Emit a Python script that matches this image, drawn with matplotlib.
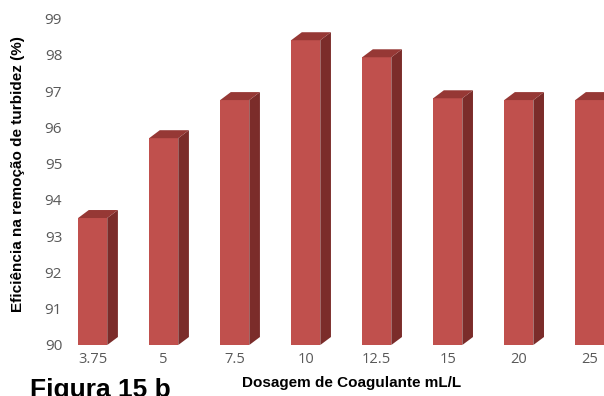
import numpy as np
import matplotlib.pyplot as plt
from matplotlib.patches import Polygon

# data
dosagem = ['3.75', '5', '7.5', '10', '12.5', '15', '20', '25']
eficiencia = [93.5, 95.7, 96.75, 98.4, 97.93, 96.8, 96.75, 96.75]
yticks = [90, 91, 92, 93, 94, 95, 96, 97, 98, 99]

front = '#C0504D'
side = '#7B2C2A'
top = '#963835'

W, H = 604, 396
fig = plt.figure(figsize=(W / 100, H / 100), dpi=100)
# axes in pixel units: left 65, right 604, bottom (value 90) at y=345, top at y=13
ax = fig.add_axes([65 / W, 1 - 345 / H, (604 - 65) / W, (345 - 13) / H])

x = np.arange(len(dosagem))
w = 0.41
dx, dy = 0.15, 0.22
base = 90

ax.bar(x, np.array(eficiencia) - base, bottom=base, width=w, color=front, zorder=2)
for xi, v in zip(x, eficiencia):
    r = xi + w / 2
    l = xi - w / 2
    # side face and top face for the 3d look
    ax.add_patch(Polygon([(r, base), (r + dx, base + dy), (r + dx, v + dy), (r, v)],
                         closed=True, facecolor=side, edgecolor='none', zorder=2))
    ax.add_patch(Polygon([(l, v), (l + dx, v + dy), (r + dx, v + dy), (r, v)],
                         closed=True, facecolor=top, edgecolor='none', zorder=2))

ax.set_xlim(-0.39, 7.2)
ax.set_ylim(90, 99.15)
ax.set_yticks(yticks)
ax.set_yticklabels([str(t) for t in yticks], fontfamily='Open Sans', fontsize=11, color='#595959')
ax.set_xticks(x)
ax.set_xticklabels(dosagem, fontfamily='Open Sans', fontsize=10.5, color='#595959')
ax.tick_params(axis='x', length=0, pad=5)
ax.tick_params(axis='y', length=0, pad=2)
for s in ax.spines.values():
    s.set_visible(False)

fig.text(18 / W, 1 - 174 / H, 'Eficiência na remoção de turbidez (%)', rotation=90,
         ha='center', va='center', fontfamily='Liberation Sans', fontweight='bold', fontsize=11)
fig.text(352 / W, 1 - 383 / H, 'Dosagem de Coagulante mL/L', ha='center', va='center',
         fontfamily='Liberation Sans', fontweight='bold', fontsize=11)
fig.text(30 / W, 1 - 378 / H, 'Figura 15 b', ha='left', va='top',
         fontfamily='Liberation Sans', fontweight='bold', fontsize=19)

fig.savefig('out.png', dpi=100)
